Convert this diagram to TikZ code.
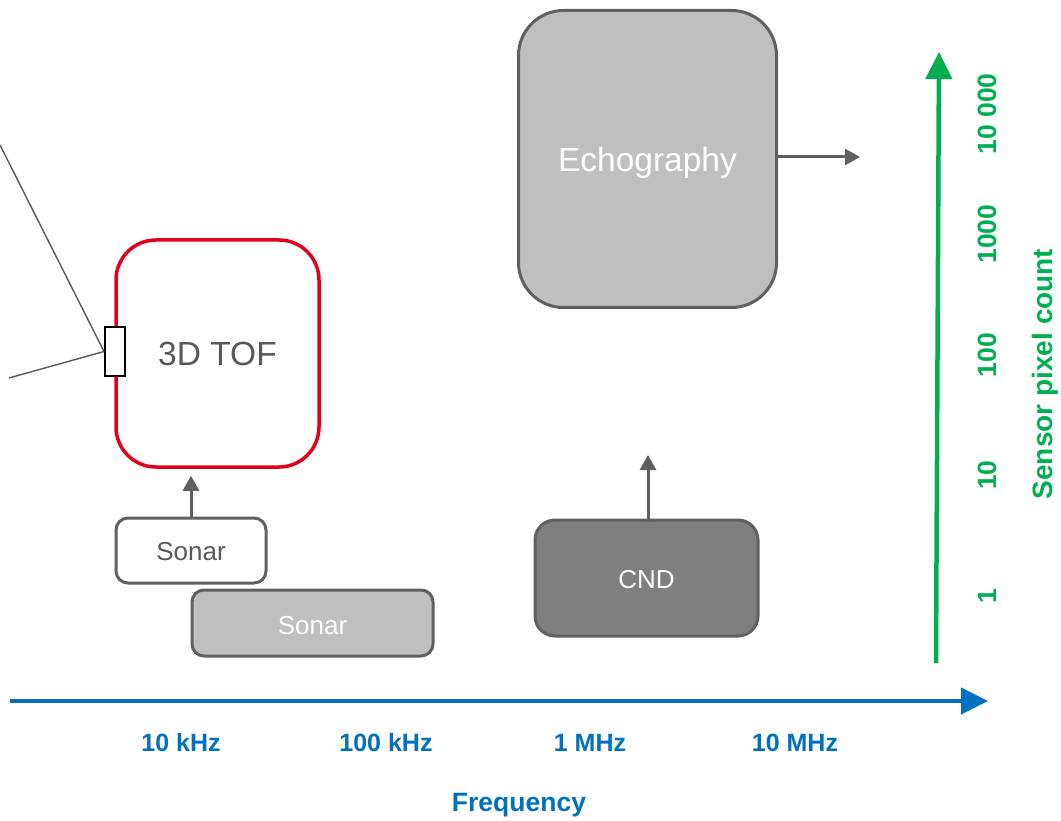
\documentclass[tikz,border=0pt]{standalone}
\usepackage{fontspec}
\setmainfont{Liberation Sans}
\usetikzlibrary{arrows.meta}

\definecolor{edgegray}{HTML}{606060}
\definecolor{textgray}{HTML}{595959}
\definecolor{lightfill}{HTML}{BFBFBF}
\definecolor{darkfill}{HTML}{7F7F7F}
\definecolor{tofred}{HTML}{E2001A}
\definecolor{axisblue}{HTML}{0070C0}
\definecolor{axisgreen}{HTML}{00B050}

\tikzset{
  box/.style={draw=edgegray, line width=3pt, inner sep=0pt},
  boxtext/.style={font=\fontsize{26}{30}\selectfont},
  bigtext/.style={font=\fontsize{33.5}{38}\selectfont},
  flow/.style={draw=edgegray, line width=3pt,
    -{Triangle[length=15pt,width=16pt]}},
  thinline/.style={draw=textgray, line width=1.4pt},
  axislabel/.style={font=\bfseries\fontsize{25}{30}\selectfont},
  vlabel/.style={font=\bfseries\fontsize{26.5}{30}\selectfont, text=axisgreen, rotate=90},
}

\begin{document}
\begin{tikzpicture}[x=1pt,y=-1pt]
  \useasboundingbox (0,0) rectangle (1061,821);

  % sensor blocks (captions set as centred labels, nudged onto the optical centre)
  \node[box, fill=lightfill, rounded corners=45pt, minimum width=258pt,
        minimum height=297pt,
        label={[bigtext, text=white, yshift=-4pt]center:Echography}]
        (echo) at (647.5,159) {};
  \node[box, draw=tofred, line width=3.5pt, fill=white, rounded corners=40pt,
        minimum width=203pt, minimum height=227pt,
        label={[bigtext, text=textgray]center:3D TOF}]
        (tof) at (217.5,353.5) {};
  \node[box, fill=white, rounded corners=12pt, minimum width=150pt,
        minimum height=65pt,
        label={[boxtext, text=textgray, yshift=-1pt]center:Sonar}]
        (sonarA) at (191,550.5) {};
  \node[box, fill=lightfill, rounded corners=12pt, minimum width=241pt,
        minimum height=66pt,
        label={[boxtext, text=white, yshift=-2.5pt]center:Sonar}]
        (sonarB) at (312.5,623) {};
  \node[box, fill=darkfill, rounded corners=20pt, minimum width=223pt,
        minimum height=116pt,
        label={[boxtext, text=white, yshift=-2pt]center:CND}]
        (cnd) at (646.5,578) {};

  % small sensor element on the 3D TOF border
  \node[draw=black, line width=2pt, fill=white, inner sep=0pt,
        minimum width=20pt, minimum height=49pt] (elem) at (115,351.5) {};
  \coordinate (rayA) at (0,145);
  \coordinate (rayB) at (9,378);
  \draw[thinline] (rayA) -- (elem.west);
  \draw[thinline] (rayB) -- (elem.west);

  % growth arrows
  \coordinate (echoEnd) at (860,157);
  \draw[flow] (echo.east |- echoEnd) -- (echoEnd);
  \draw[flow, shorten >=7pt] (sonarA.north) -- (sonarA.north |- tof.south);
  \coordinate (cndEnd) at (648,455);
  \draw[flow] ([yshift=-3pt]cnd.north -| cndEnd) -- (cndEnd);

  % frequency axis
  \coordinate (fStart) at (10,701);
  \coordinate (fEnd) at (988,701);
  \draw[axisblue, line width=4.5pt, -{Triangle[length=27pt,width=26pt]}] (fStart) -- (fEnd);
  \begin{scope}[axislabel, text=axisblue]
    \node (f1) at (181,743) {10 kHz};
    \node (f2) at (386,743) {100 kHz};
    \node (f3) at (590,743) {1 MHz};
    \node (f4) at (795,743) {10 MHz};
    \node[font=\bfseries\fontsize{26.5}{30}\selectfont] (fLabel) at (519,805) {Frequency};
  \end{scope}

  % pixel count axis
  \coordinate (pStart) at (936,663);
  \coordinate (pEnd) at (939,52);
  \draw[axisgreen, line width=4.5pt, -{Triangle[length=27pt,width=26pt]}] (pStart) -- (pEnd);
  \node[vlabel] (p5) at (987,114) {10 000};
  \node[vlabel] (p4) at (987,234) {1000};
  \node[vlabel] (p3) at (987,355) {100};
  \node[vlabel] (p2) at (987,475) {10};
  \node[vlabel] (p1) at (987,596) {1};
  \node[vlabel, font=\bfseries\fontsize{28}{32}\selectfont] (pLabel) at (1045,374)
        {Sensor pixel count};
\end{tikzpicture}
\end{document}
